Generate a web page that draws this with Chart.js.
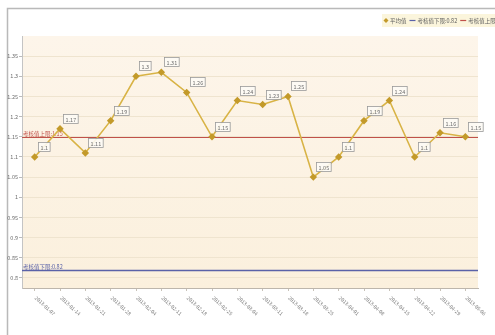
<!DOCTYPE html>
<html>
<head>
<meta charset="utf-8">
<script src="https://cdn.jsdelivr.net/npm/chart.js@4/dist/chart.umd.min.js"></script>
<style>
  html, body { margin: 0; padding: 0; background: #fff; overflow: hidden; }
  #wrap { width: 495px; height: 335px; position: relative; }
</style>
</head>
<body>
<div id="wrap"><canvas id="c" width="495" height="335"></canvas></div>
<script>
// Weekly periods on the category axis
const categories = [
  '2013-01-07', '2013-01-14', '2013-01-21', '2013-01-28', '2013-02-04', '2013-02-11',
  '2013-02-18', '2013-02-25', '2013-03-04', '2013-03-11', '2013-03-18', '2013-03-25',
  '2013-04-01', '2013-04-08', '2013-04-15', '2013-04-22', '2013-04-29', '2013-05-06'
];
// Average value per period
const averageValues = [
  1.10, 1.17, 1.11, 1.19, 1.30, 1.31, 1.26, 1.15, 1.24,
  1.23, 1.25, 1.05, 1.10, 1.19, 1.24, 1.10, 1.16, 1.15
];
// Assessment limits
const lowerLimit = 0.82;
const upperLimit = 1.15;
// Value-axis tick labels
const yTicks = [0.8, 0.85, 0.9, 0.95, 1, 1.05, 1.1, 1.15, 1.2, 1.25, 1.3, 1.35];

const seriesName = '平均值';
const lowerName = '考核值下限:' + lowerLimit;
const upperName = '考核值上限:' + upperLimit;

const GOLD_LINE = '#d8b345';
const GOLD_DOT = '#c39a2a';
const RED = '#c0514a';
const BLUE = '#5a62a8';
const FONT = '"Noto Sans CJK SC", "DejaVu Sans", sans-serif';

const fmt = v => String(+(+v).toFixed(2));

// Page frame and plot background
const backdrop = {
  id: 'backdrop',
  beforeDraw(chart) {
    const { ctx, chartArea: a } = chart;
    ctx.save();
    ctx.fillStyle = '#ffffff';
    ctx.fillRect(0, 0, chart.width, chart.height);
    ctx.strokeStyle = '#b9b9b9';
    ctx.lineWidth = 1.5;
    ctx.beginPath();
    ctx.moveTo(7.5, chart.height);
    ctx.lineTo(7.5, 8.5);
    ctx.lineTo(chart.width, 8.5);
    ctx.stroke();
    const g = ctx.createLinearGradient(0, a.top, 0, a.bottom);
    g.addColorStop(0, '#fdf5ea');
    g.addColorStop(1, '#fbf0dd');
    ctx.fillStyle = g;
    ctx.fillRect(a.left, a.top, a.right - a.left, a.bottom - a.top);
    ctx.restore();
  }
};

// Upper / lower limit lines with their captions
const limitLines = {
  id: 'limitLines',
  beforeDatasetsDraw(chart) {
    const { ctx, chartArea: a, scales: { y } } = chart;
    ctx.save();
    [[upperLimit, RED, upperName, 1.2], [lowerLimit, BLUE, lowerName, 1.6]].forEach(([v, color, text, lw]) => {
      const py = Math.round(y.getPixelForValue(v)) + 0.5;
      ctx.strokeStyle = color;
      ctx.lineWidth = lw;
      ctx.beginPath();
      ctx.moveTo(a.left, py);
      ctx.lineTo(a.right, py);
      ctx.stroke();
      ctx.font = '5.5px ' + FONT;
      ctx.fillStyle = color;
      ctx.textAlign = 'left';
      ctx.textBaseline = 'bottom';
      ctx.fillText(text, a.left + 1, py - 1);
    });
    ctx.restore();
  }
};

// Boxed value captions beside each point
const valueBoxes = {
  id: 'valueBoxes',
  afterDatasetsDraw(chart) {
    const { ctx } = chart;
    const meta = chart.getDatasetMeta(0);
    const data = chart.data.datasets[0].data;
    ctx.save();
    ctx.font = '5.5px ' + FONT;
    ctx.textAlign = 'center';
    ctx.textBaseline = 'middle';
    meta.data.forEach((pt, i) => {
      const t = fmt(data[i]);
      const w = Math.max(10, ctx.measureText(t).width + 4);
      const h = 9;
      const left = Math.round(pt.x + 3) + 0.5;
      const top = Math.round(pt.y - 6 - h) + 0.5;
      ctx.fillStyle = 'rgba(253,251,245,0.9)';
      ctx.fillRect(left, top, w, h);
      ctx.strokeStyle = '#9a9a9a';
      ctx.lineWidth = 0.8;
      ctx.strokeRect(left, top, w, h);
      ctx.fillStyle = '#707070';
      ctx.fillText(t, left + w / 2, top + h / 2 + 0.5);
    });
    ctx.restore();
  }
};

// Slanted category captions under the axis
const slantedLabels = {
  id: 'slantedLabels',
  afterDraw(chart) {
    const { ctx, chartArea: a, scales: { x } } = chart;
    ctx.save();
    ctx.font = '5px ' + FONT;
    ctx.fillStyle = '#7a7a7a';
    ctx.textAlign = 'left';
    ctx.textBaseline = 'middle';
    chart.data.labels.forEach((lab, i) => {
      const px = x.getPixelForTick(i);
      ctx.save();
      ctx.translate(px + 1, a.bottom + 9);
      ctx.rotate(43 * Math.PI / 180);
      ctx.fillText(lab, 0, 0);
      ctx.restore();
    });
    ctx.restore();
  }
};

// Legend strip in the top-right corner
const cornerLegend = {
  id: 'cornerLegend',
  afterDraw(chart) {
    const { ctx } = chart;
    ctx.save();
    ctx.fillStyle = '#fbf5dc';
    ctx.fillRect(382, 14, 113, 13);
    const cy = 20.5;
    ctx.font = '5.5px ' + FONT;
    ctx.textBaseline = 'middle';
    ctx.textAlign = 'left';
    let xPos = 386;
    // series marker
    ctx.fillStyle = GOLD_DOT;
    ctx.beginPath();
    ctx.moveTo(xPos, cy - 2.5); ctx.lineTo(xPos + 2.5, cy); ctx.lineTo(xPos, cy + 2.5); ctx.lineTo(xPos - 2.5, cy);
    ctx.closePath(); ctx.fill();
    xPos += 4;
    ctx.fillStyle = '#5e5e5e';
    ctx.fillText(seriesName, xPos, cy);
    xPos += ctx.measureText(seriesName).width + 3;
    [[BLUE, lowerName], [RED, upperName]].forEach(([c, t]) => {
      ctx.strokeStyle = c;
      ctx.lineWidth = 1.2;
      ctx.beginPath(); ctx.moveTo(xPos, cy); ctx.lineTo(xPos + 6, cy); ctx.stroke();
      xPos += 8;
      ctx.fillStyle = '#5e5e5e';
      ctx.fillText(t, xPos, cy);
      xPos += ctx.measureText(t).width + 3;
    });
    ctx.restore();
  }
};

new Chart(document.getElementById('c'), {
  type: 'line',
  data: {
    labels: categories,
    datasets: [{
      label: seriesName,
      data: averageValues,
      borderColor: GOLD_LINE,
      borderWidth: 1.6,
      backgroundColor: GOLD_DOT,
      pointStyle: 'rectRot',
      pointRadius: 2.6,
      pointBorderColor: GOLD_DOT,
      pointBackgroundColor: GOLD_DOT,
      tension: 0,
      fill: false
    }]
  },
  options: {
    responsive: false,
    animation: false,
    devicePixelRatio: 1,
    layout: { padding: { top: 36, right: 17, left: 7, bottom: 0 } },
    plugins: {
      legend: { display: false },
      tooltip: { enabled: false }
    },
    scales: {
      x: {
        type: 'category',
        offset: true,
        afterFit(scale) { scale.height = 47; },
        border: { display: true, color: '#bdb6ac', width: 1 },
        grid: { display: true, drawOnChartArea: false, drawTicks: true, tickLength: 3, color: '#c8c2b8' },
        ticks: { display: false }
      },
      y: {
        min: 0.775,
        max: 1.4,
        afterFit(scale) { scale.width = 15; },
        afterBuildTicks(scale) { scale.ticks = yTicks.map(v => ({ value: v })); },
        border: { display: true, color: '#c4c4c4', width: 1 },
        grid: { color: '#efe4cf', lineWidth: 1, tickLength: 3, drawTicks: true, tickColor: '#bbbbbb' },
        ticks: {
          color: '#6e6e6e',
          padding: 1,
          font: { size: 5.5, family: FONT },
          callback: v => fmt(v)
        }
      }
    }
  },
  plugins: [backdrop, limitLines, valueBoxes, slantedLabels, cornerLegend]
});
</script>
</body>
</html>
